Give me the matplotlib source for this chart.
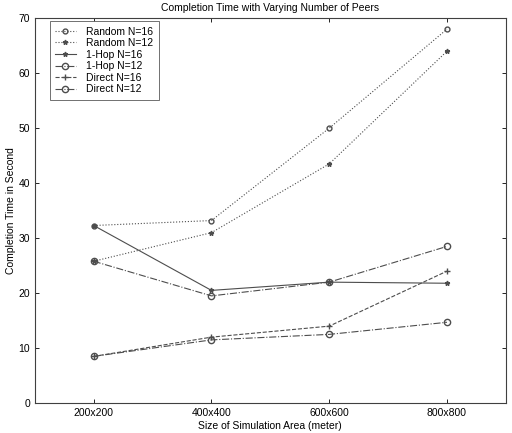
import numpy as np
import matplotlib
matplotlib.use('Agg')
import matplotlib.pyplot as plt

plt.rcParams['font.family'] = ['Liberation Sans', 'DejaVu Sans']

# data
areas = ['200x200', '400x400', '600x600', '800x800']
random16 = [32.3, 33.2, 50.0, 68.0]
random12 = [25.8, 31.0, 43.5, 64.0]
hop16 = [32.3, 20.5, 22.0, 21.8]
hop12 = [25.8, 19.5, 22.0, 28.5]
direct16 = [8.5, 12.0, 14.0, 24.0]
direct12 = [8.5, 11.5, 12.5, 14.7]

fig = plt.figure(figsize=(5.12, 4.33), dpi=100)
ax = fig.add_axes([0.068, 0.069, 0.92, 0.889])

x = np.arange(1, len(areas) + 1)
c = '0.3'
ax.plot(x, random16, linestyle=':', marker='o', ms=3.5, mfc='none', color=c, lw=0.8, label='Random N=16')
ax.plot(x, random12, linestyle=':', marker='*', ms=3.5, color=c, lw=0.8, label='Random N=12')
ax.plot(x, hop16, linestyle='-', marker='*', ms=3.5, color=c, lw=0.8, label='1-Hop N=16')
ax.plot(x, hop12, linestyle='-.', marker='o', ms=4.5, mfc='none', color=c, lw=0.8, label='1-Hop N=12')
ax.plot(x, direct16, linestyle='--', marker='+', ms=4, color=c, lw=0.8, label='Direct N=16')
ax.plot(x, direct12, linestyle='-.', marker='o', ms=4.5, mfc='none', color=c, lw=0.8, label='Direct N=12')

ax.set_xlim(0.5, 4.5)
ax.set_ylim(0, 70)
ax.set_xticks(x)
ax.set_xticklabels(areas)
ax.set_yticks(np.arange(0, 71, 10))
ax.tick_params(direction='in', top=True, right=True, labelsize=7.5, length=3, width=0.6)
for s in ax.spines.values():
    s.set_linewidth(0.8)
    s.set_color('0.25')

ax.set_title('Completion Time with Varying Number of Peers', fontsize=7.5, pad=5)
ax.set_xlabel('Size of Simulation Area (meter)', fontsize=7.5, labelpad=2)
ax.set_ylabel('Completion Time in Second', fontsize=7.5, labelpad=2)

leg = ax.legend(loc='upper left', bbox_to_anchor=(0.025, 1.0), fontsize=7.5,
                fancybox=False, framealpha=1, edgecolor='0.35', handlelength=2.0,
                borderaxespad=0.3, labelspacing=0.15, borderpad=0.5, handletextpad=1.0)
leg.get_frame().set_linewidth(0.6)

fig.savefig('out.png', dpi=100)
